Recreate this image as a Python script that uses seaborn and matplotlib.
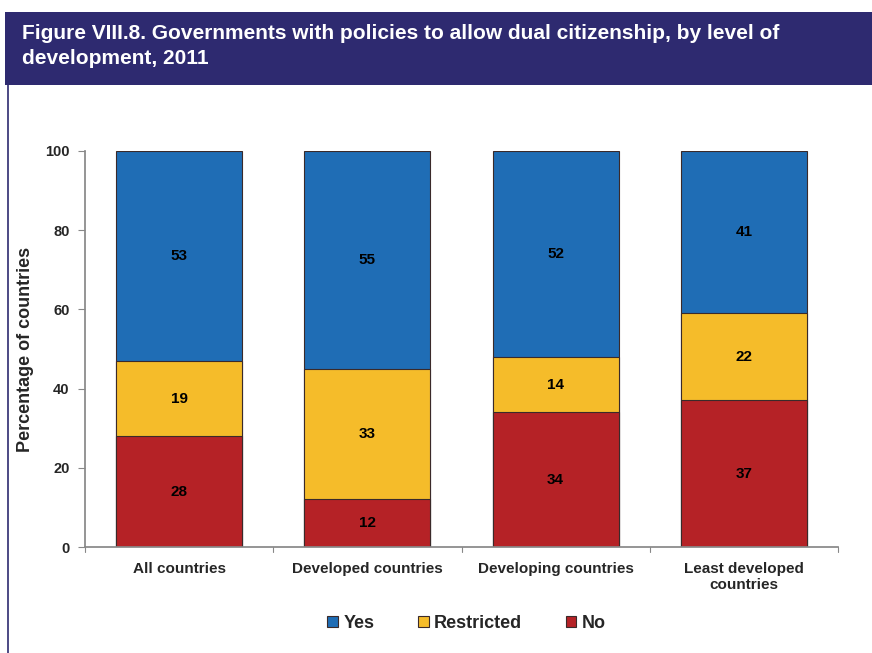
import pandas as pd
import matplotlib.pyplot as plt
import seaborn as sns
from matplotlib.patches import Rectangle, Patch
from matplotlib.lines import Line2D

# Data (percent of countries)
categories = ["All countries", "Developed countries", "Developing countries", "Least developed\ncountries"]
no_vals = [28, 12, 34, 37]
restricted_vals = [19, 33, 14, 22]
yes_vals = [53, 55, 52, 41]

colors = {"Yes": "#1F6DB5", "Restricted": "#F5BC2A", "No": "#B52226"}
edge = "#3a2a2a"

sns.set_theme(style="white")
plt.rcParams["font.family"] = ["Liberation Sans", "DejaVu Sans"]

df = pd.DataFrame({
    "category": categories,
    "No": no_vals,
    "Restricted": restricted_vals,
    "Yes": yes_vals,
})
df["top_no"] = df["No"]
df["top_restricted"] = df["No"] + df["Restricted"]
df["top_yes"] = df["top_restricted"] + df["Yes"]

fig = plt.figure(figsize=(8.72, 6.53), dpi=100)
ax = fig.add_axes([0.0975, 0.1623, 0.8635, 0.6065])

# stacked bars drawn as overlapping cumulative layers
for col, key in [("top_yes", "Yes"), ("top_restricted", "Restricted"), ("top_no", "No")]:
    sns.barplot(data=df, x="category", y=col, color=colors[key], saturation=1,
                width=0.67, edgecolor=edge, linewidth=0.8, ax=ax)

# segment labels
for i, row in df.iterrows():
    for lo, hi, v in [(0, row["top_no"], row["No"]),
                      (row["top_no"], row["top_restricted"], row["Restricted"]),
                      (row["top_restricted"], row["top_yes"], row["Yes"])]:
        ax.text(i, (lo + hi) / 2, f"{v}", ha="center", va="center",
                fontsize=11, fontweight="bold", color="black")

ax.set_ylim(0, 100)
ax.set_xlim(-0.5, 3.5)
ax.set_yticks([0, 20, 40, 60, 80, 100])
ax.set_xlabel("")
ax.set_ylabel("Percentage of countries", fontsize=13, fontweight="bold", labelpad=8)
for lab in ax.get_yticklabels():
    lab.set_fontweight("bold")
    lab.set_fontsize(10.5)
for lab in ax.get_xticklabels():
    lab.set_fontweight("bold")
    lab.set_fontsize(11)
    lab.set_linespacing(1.2)
ax.tick_params(axis="y", length=5, width=0.8, color="#888888", direction="out", left=True, pad=6)
ax.tick_params(axis="x", length=0, pad=11)
# x boundary ticks between categories
for xb in [-0.5, 0.5, 1.5, 2.5, 3.5]:
    ax.plot([xb, xb], [0, -1.3], color="#888888", lw=0.8, clip_on=False)
sns.despine(ax=ax, top=True, right=True)
ax.spines["left"].set_color("#888888")
ax.spines["bottom"].set_color("#888888")

# legend
handles = [Patch(facecolor=colors[k], edgecolor=edge, linewidth=0.8, label=k)
           for k in ["Yes", "Restricted", "No"]]
fig.legend(handles=handles, loc="center", bbox_to_anchor=(0.535, 0.045), ncol=3,
           frameon=False, prop={"weight": "bold", "size": 13},
           handlelength=0.6, handleheight=0.6, handletextpad=0.3, columnspacing=2.4)

# title banner
fig.patches.append(Rectangle((0.006, 0.870), 0.994, 0.112, transform=fig.transFigure,
                             facecolor="#2E2A70", edgecolor="none", zorder=0))
fig.lines.append(Line2D([0.009, 0.009], [0.0, 0.870], transform=fig.transFigure,
                        color="#2E2A70", lw=1.2))
fig.text(0.025, 0.949, "Figure VIII.8. Governments with policies to allow dual citizenship, by level of",
         color="white", fontsize=15, fontweight="bold", va="center", ha="left")
fig.text(0.025, 0.911, "development, 2011",
         color="white", fontsize=15, fontweight="bold", va="center", ha="left")

fig.savefig("out.png", dpi=100)
